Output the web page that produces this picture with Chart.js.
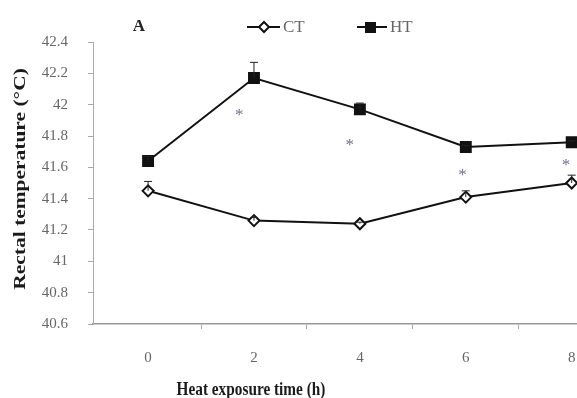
<!DOCTYPE html>
<html>
<head>
<meta charset="utf-8">
<script src="https://cdn.jsdelivr.net/npm/chart.js@4.4.0/dist/chart.umd.min.js"></script>
<style>
  html, body { margin: 0; padding: 0; background: #fff; }
  #wrap { width: 577px; height: 398px; }
</style>
</head>
<body>
<div id="wrap"><canvas id="chart" width="577" height="398"></canvas></div>
<script>
// heat exposure time (h)
const hours = [0, 2, 4, 6, 8];
const ctTemp = [41.45, 41.26, 41.24, 41.41, 41.50];
const htTemp = [41.64, 42.17, 41.97, 41.73, 41.76];
const ctErr = [0.06, 0.02, 0.01, 0.04, 0.05];
const htErr = [0.03, 0.10, 0.04, 0.01, 0.01];
// asterisks (significance marks)
const starX = [1.72, 3.81, 5.94, 7.89];
const starY = [41.95, 41.76, 41.57, 41.63];
const yTicks = ['40.6', '40.8', '41', '41.2', '41.4', '41.6', '41.8', '42', '42.2', '42.4'];

const serif = '"Liberation Serif", "DejaVu Serif", serif';
const toPts = (ys) => hours.map((h, i) => ({ x: h, y: ys[i] }));

// error bars, asterisks, legend and texts
const extras = {
  id: 'extras',
  afterDatasetsDraw(chart) {
    const { ctx, scales: { x, y } } = chart;
    ctx.save();
    ctx.strokeStyle = '#222';
    ctx.lineWidth = 1;
    [[ctTemp, ctErr], [htTemp, htErr]].forEach(([vals, errs]) => {
      vals.forEach((v, i) => {
        const px = x.getPixelForValue(hours[i]);
        const p0 = y.getPixelForValue(v);
        const p1 = y.getPixelForValue(v + errs[i]);
        ctx.beginPath();
        ctx.moveTo(px, p0); ctx.lineTo(px, p1);
        ctx.moveTo(px - 4, p1); ctx.lineTo(px + 4, p1);
        ctx.stroke();
      });
    });
    ctx.restore();
  },
  afterDraw(chart) {
    const { ctx, scales: { x, y } } = chart;
    ctx.save();
    ctx.fillStyle = '#6f7390';
    ctx.font = '17px ' + serif;
    ctx.textAlign = 'center';
    ctx.textBaseline = 'middle';
    starX.forEach((sx, i) => {
      ctx.fillText('*', x.getPixelForValue(sx), y.getPixelForValue(starY[i]) + 3);
    });

    // panel letter
    ctx.fillStyle = '#222';
    ctx.font = 'bold 17px ' + serif;
    ctx.fillText('A', 139, 27);

    // legend
    ctx.strokeStyle = '#111';
    ctx.lineWidth = 2;
    ctx.beginPath(); ctx.moveTo(247, 27); ctx.lineTo(280, 27); ctx.stroke();
    ctx.beginPath();
    ctx.moveTo(264, 22); ctx.lineTo(269, 27); ctx.lineTo(264, 32); ctx.lineTo(259, 27); ctx.closePath();
    ctx.fillStyle = '#fff'; ctx.fill(); ctx.stroke();
    ctx.beginPath(); ctx.moveTo(357, 27); ctx.lineTo(387, 27); ctx.stroke();
    ctx.fillStyle = '#111';
    ctx.fillRect(365, 22, 11, 11);
    ctx.fillStyle = '#666';
    ctx.font = '17px ' + serif;
    ctx.textAlign = 'left';
    ctx.fillText('CT', 283, 28);
    ctx.fillText('HT', 390, 28);

    // axis titles
    ctx.fillStyle = '#1a1a1a';
    ctx.font = 'bold 18px ' + serif;
    ctx.textAlign = 'center';
    ctx.save();
    ctx.translate(251, 390);
    ctx.scale(0.85, 1);
    ctx.fillText('Heat exposure time (h)', 0, 0);
    ctx.restore();
    ctx.font = 'bold 19px ' + serif;
    ctx.translate(21, 179);
    ctx.rotate(-Math.PI / 2);
    ctx.scale(1.13, 0.9);
    ctx.fillText('Rectal temperature (\u00B0C)', 0, 0);
    ctx.restore();
  }
};

new Chart(document.getElementById('chart'), {
  type: 'line',
  data: {
    datasets: [
      {
        label: 'HT',
        data: toPts(htTemp),
        borderColor: '#111',
        borderWidth: 2,
        pointStyle: 'rect',
        pointRadius: 7,
        pointBackgroundColor: '#111',
        pointBorderColor: '#111',
        tension: 0,
        clip: false
      },
      {
        label: 'CT',
        data: toPts(ctTemp),
        borderColor: '#111',
        borderWidth: 2,
        pointStyle: 'rectRot',
        pointRadius: 5.5,
        pointBorderWidth: 2,
        pointBackgroundColor: '#fff',
        pointBorderColor: '#111',
        tension: 0,
        clip: false
      }
    ]
  },
  options: {
    responsive: false,
    animation: false,
    layout: { autoPadding: false, padding: { top: 42, right: 0, left: 0, bottom: 0 } },
    scales: {
      x: {
        type: 'linear',
        min: -1.04,
        max: 8.1,
        afterBuildTicks: (scale) => {
          scale.ticks = [0, 1, 2, 3, 4, 5, 6, 7, 8].map(v => ({ value: v }));
        },
        afterFit: (scale) => {
          scale.height = 74;
          scale.paddingLeft = 0;
          scale.paddingRight = 0;
        },
        ticks: {
          autoSkip: false,
          maxRotation: 0,
          padding: 20,
          color: '#666',
          font: { family: serif, size: 15 },
          callback: (v) => hours.includes(v) ? String(v) : ''
        },
        grid: {
          drawOnChartArea: false,
          tickLength: 5,
          color: (c) => (c.tick && hours.includes(c.tick.value)) ? 'rgba(0,0,0,0)' : '#aaa'
        },
        border: { color: '#999', width: 1.5 }
      },
      y: {
        min: 40.6,
        max: 42.4,
        ticks: {
          stepSize: 0.2,
          padding: 20,
          color: '#666',
          font: { family: serif, size: 15 },
          callback: (v) => yTicks.find(t => Math.abs(parseFloat(t) - v) < 1e-6) || ''
        },
        afterFit: (scale) => {
          scale.width = 93;
          scale.paddingTop = 0;
          scale.paddingBottom = 0;
        },
        grid: { drawOnChartArea: false, tickLength: 5, color: '#aaa' },
        border: { color: '#aaa', width: 1 }
      }
    },
    plugins: {
      legend: { display: false },
      tooltip: { enabled: false }
    }
  },
  plugins: [extras]
});
</script>
</body>
</html>
